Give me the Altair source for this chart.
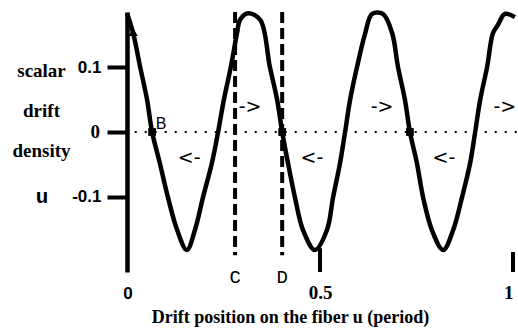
import altair as alt
import pandas as pd

# Scalar drift density u along the fibre position (in periods)
curve_u = [0.000, 0.016, 0.034, 0.052, 0.065, 0.085, 0.106, 0.130, 0.155,
           0.176, 0.197, 0.220, 0.236, 0.251, 0.269, 0.285, 0.293, 0.313,
           0.345, 0.370, 0.389, 0.402, 0.417, 0.435, 0.456, 0.487, 0.518,
           0.534, 0.552, 0.565, 0.578, 0.596, 0.617, 0.635, 0.663, 0.687,
           0.702, 0.720, 0.733, 0.751, 0.767, 0.790, 0.819, 0.845, 0.868,
           0.889, 0.902, 0.915, 0.933, 0.948, 0.961, 0.979, 1.005]
curve_v = [0.184, 0.153, 0.101, 0.050, 0.000, -0.048, -0.101, -0.152, -0.183,
           -0.152, -0.101, -0.048, 0.000, 0.050, 0.101, 0.153, 0.174, 0.184,
           0.174, 0.101, 0.050, 0.000, -0.048, -0.101, -0.152, -0.183, -0.152,
           -0.101, -0.048, 0.000, 0.050, 0.101, 0.153, 0.183, 0.183, 0.153,
           0.101, 0.050, 0.000, -0.048, -0.101, -0.152, -0.183, -0.152, -0.101,
           -0.048, 0.000, 0.050, 0.101, 0.153, 0.166, 0.183, 0.178]

# Reference positions C and D (dashed verticals)
ref_u = [0.280, 0.402]
ref_names = ["C", "D"]
ref_top = 0.186
ref_bottom = -0.191
ref_label_v = -0.222

# Marked points on the curve
square_u = [0.065, 0.402, 0.733]
square_v = [0.0, 0.0, 0.0]
triangle_u = [0.016]
triangle_v = [0.155]

# Drift direction arrows
arrow_text = ["->", "->", "->", "<-", "<-", "<-"]
arrow_u = [0.319, 0.661, 0.979, 0.161, 0.479, 0.821]
arrow_v = [0.039, 0.039, 0.039, -0.040, -0.040, -0.040]

# Zero line extent
zero_from, zero_to = 0.02, 1.013

# Short x tick stubs
xtick_u = [0.5, 1.0]
xtick_top = [-0.180, -0.186]

y_ticks = [-0.1, 0.0, 0.1]
x_ticks = [0, 0.5, 1]
y_title = ["scalar", "drift", "density"]

x_scale = alt.Scale(domain=[0, 1], nice=False, zero=False)
y_scale = alt.Scale(domain=[-0.217, 0.186], nice=False, zero=False)

curve_df = pd.DataFrame({"u": curve_u, "v": curve_v, "i": range(len(curve_u))})
ref_df = pd.DataFrame({"u": ref_u, "name": ref_names,
                       "top": [ref_top] * 2, "bottom": [ref_bottom] * 2,
                       "lab": [ref_label_v] * 2})
sq_df = pd.DataFrame({"u": square_u, "v": square_v})
tri_df = pd.DataFrame({"u": triangle_u, "v": triangle_v})
arrow_df = pd.DataFrame({"u": arrow_u, "v": arrow_v, "t": arrow_text})
zero_df = pd.DataFrame({"u": [zero_from], "u2": [zero_to], "v": [0.0]})
xt_df = pd.DataFrame({"u": xtick_u, "top": xtick_top, "bottom": [-0.217] * 2})

SERIF = "Liberation Serif, Times New Roman, serif"

# x labels: 0.5 and 1 in serif on the axis, the origin "0" drawn separately
x_axis = alt.Axis(values=x_ticks, domain=False, ticks=False, grid=False,
                  labelFont=SERIF, labelFontSize=19,
                  labelFontWeight="bold", labelColor="black", labelPadding=11,
                  labelExpr="datum.value == 0 ? '' : format(datum.value, '.1~f')",
                  title="Drift position on the fiber u (period)",
                  titleFont=SERIF, titleFontSize=18,
                  titleFontWeight="bold", titleColor="black",
                  titleX=163, titleY=50, titleAlign="center",
                  titleBaseline="alphabetic")

# y labels: ±0.1 in sans on the axis, the serif "0" drawn separately
y_axis = alt.Axis(values=y_ticks, grid=False, domain=True, domainColor="black",
                  domainWidth=4.5, ticks=True, tickColor="black", tickWidth=4,
                  tickSize=20, labelFont="Liberation Sans", labelFontSize=17,
                  labelFontWeight="bold", labelColor="black", labelPadding=6,
                  labelExpr="datum.value == 0 ? '' : (datum.value < 0 ? '-' : '') + format(abs(datum.value), '.1f')",
                  title=y_title, titleAngle=0,
                  titleFont=SERIF, titleFontSize=19,
                  titleFontWeight="bold", titleColor="black", titleLineHeight=40,
                  titleAlign="center", titleBaseline="alphabetic",
                  titleX=-86, titleY=64)


def xq(field):
    return alt.X(field, scale=x_scale, axis=x_axis)


def yq(field):
    return alt.Y(field, scale=y_scale, axis=y_axis)


curve = alt.Chart(curve_df).mark_line(
    color="black", strokeWidth=4.5, interpolate="catmull-rom", strokeJoin="round"
).encode(x=xq("u:Q"), y=yq("v:Q"), order="i:O")

zero_line = alt.Chart(zero_df).mark_rule(
    color="black", strokeWidth=2, strokeDash=[2, 8]
).encode(x=xq("u:Q"), x2="u2:Q", y=yq("v:Q"))

ref_lines = alt.Chart(ref_df).mark_rule(
    color="black", strokeWidth=4, strokeDash=[11, 5]
).encode(x=xq("u:Q"), y=yq("top:Q"), y2="bottom:Q")

ref_labels = alt.Chart(ref_df).mark_text(
    font="Liberation Mono", fontSize=19, color="black", baseline="middle", dy=2
).encode(x=xq("u:Q"), y=yq("lab:Q"), text="name:N")

xticks = alt.Chart(xt_df).mark_rule(color="black", strokeWidth=4).encode(
    x=xq("u:Q"), y=yq("top:Q"), y2="bottom:Q")

squares = alt.Chart(sq_df).mark_point(
    shape="square", filled=True, color="black", size=60, opacity=1
).encode(x=xq("u:Q"), y=yq("v:Q"))

triangles = alt.Chart(tri_df).mark_point(
    shape="triangle-up", filled=True, color="black", size=85, opacity=1
).encode(x=xq("u:Q"), y=yq("v:Q"))

b_label = alt.Chart(pd.DataFrame({"u": [0.088], "v": [0.012], "t": ["B"]})).mark_text(
    font="Liberation Sans", fontSize=16, color="black", baseline="middle"
).encode(x=xq("u:Q"), y=yq("v:Q"), text="t:N")

arrows = alt.Chart(arrow_df).mark_text(
    font="DejaVu Sans", fontSize=19, color="black", baseline="middle"
).encode(x=xq("u:Q"), y=yq("v:Q"), text="t:N")

u_label = alt.Chart(pd.DataFrame({"u": [0.0], "v": [-0.1], "t": ["u"]})).mark_text(
    font="Liberation Mono", fontSize=21, fontWeight="bold", color="black",
    baseline="middle", dx=-85
).encode(x=xq("u:Q"), y=yq("v:Q"), text="t:N")

# origin labels of the two axes
y_zero = alt.Chart(pd.DataFrame({"u": [0.0], "v": [0.0], "t": ["0"]})).mark_text(
    font=SERIF, fontSize=19, fontWeight="bold", color="black",
    align="right", baseline="middle", dx=-27
).encode(x=xq("u:Q"), y=yq("v:Q"), text="t:N")

x_zero = alt.Chart(pd.DataFrame({"u": [0.0], "v": [-0.217], "t": ["0"]})).mark_text(
    font="Liberation Sans", fontSize=17, fontWeight="bold", color="black",
    align="center", baseline="middle", dx=1, dy=22
).encode(x=xq("u:Q"), y=yq("v:Q"), text="t:N")

chart = alt.layer(
    curve, zero_line, ref_lines, ref_labels, xticks, squares, triangles,
    b_label, arrows, u_label, y_zero, x_zero
).properties(
    width=386, height=260,
    padding={"left": 127, "top": 12, "right": 5, "bottom": 63},
    autosize=alt.AutoSizeParams(type="none"),
    background="white",
).configure_view(stroke=None).configure_axisY(
    titleFont=SERIF, titleFontWeight="bold"
).configure_axisX(labelFont=SERIF)

chart.save("out.html", embed_options={"renderer": "svg", "actions": False})
